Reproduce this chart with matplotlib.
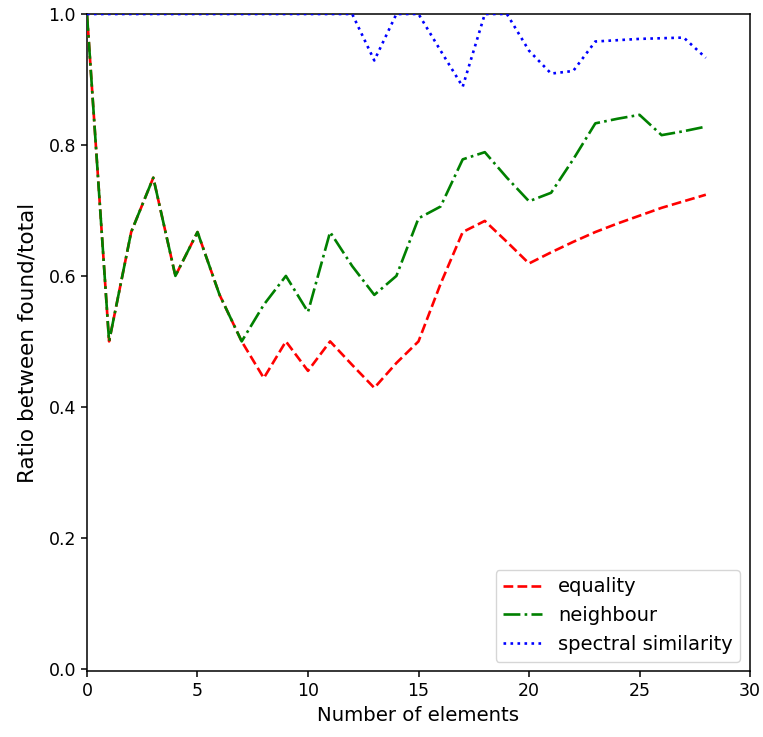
import numpy as np
import matplotlib
matplotlib.use('Agg')
import matplotlib.pyplot as plt

# number of elements
n_elements = list(range(29))

equality = [1.0, 0.5, 0.667, 0.75, 0.6, 0.667, 0.571, 0.5, 0.444, 0.5,
            0.455, 0.5, 0.464, 0.429, 0.467, 0.5, 0.588, 0.667, 0.684, 0.652,
            0.619, 0.636, 0.652, 0.667, 0.68, 0.692, 0.704, 0.714, 0.724]

neighbour = [1.0, 0.5, 0.667, 0.75, 0.6, 0.667, 0.571, 0.5, 0.556, 0.6,
             0.545, 0.667, 0.615, 0.571, 0.6, 0.688, 0.706, 0.778, 0.789, 0.75,
             0.714, 0.727, 0.778, 0.833, 0.84, 0.846, 0.815, 0.821, 0.828]

spectral = [1.0, 1.0, 1.0, 1.0, 1.0, 1.0, 1.0, 1.0, 1.0, 1.0,
            1.0, 1.0, 1.0, 0.929, 1.0, 1.0, 0.944, 0.889, 1.0, 1.0,
            0.944, 0.909, 0.913, 0.958, 0.96, 0.962, 0.963, 0.964, 0.933]

fig = plt.figure(figsize=(7.63, 7.37), dpi=100)
ax = fig.add_axes([0.114, 0.089, 0.869, 0.892])

lw = 1.9
ax.plot(n_elements, equality, 'r--', lw=lw, label='equality', zorder=3)
ax.plot(n_elements, neighbour, 'g-.', lw=lw, label='neighbour', zorder=3)
ax.plot(n_elements, spectral, 'b:', lw=lw, label='spectral similarity', zorder=3)

ax.set_xlim(0, 30)
ax.set_ylim(-0.004, 1.0)
ax.set_xticks([0, 5, 10, 15, 20, 25, 30])
ax.set_yticks([0.0, 0.2, 0.4, 0.6, 0.8, 1.0])
ax.tick_params(labelsize=12.5, length=4.4, width=1.1)
for s in ax.spines.values():
    s.set_linewidth(1.1)
ax.set_xlabel('Number of elements', fontsize=14.2)
ax.set_ylabel('Ratio between found/total', fontsize=15.5, labelpad=8)
ax.legend(loc='lower right', fontsize=14)

fig.savefig('out.png', dpi=100)
